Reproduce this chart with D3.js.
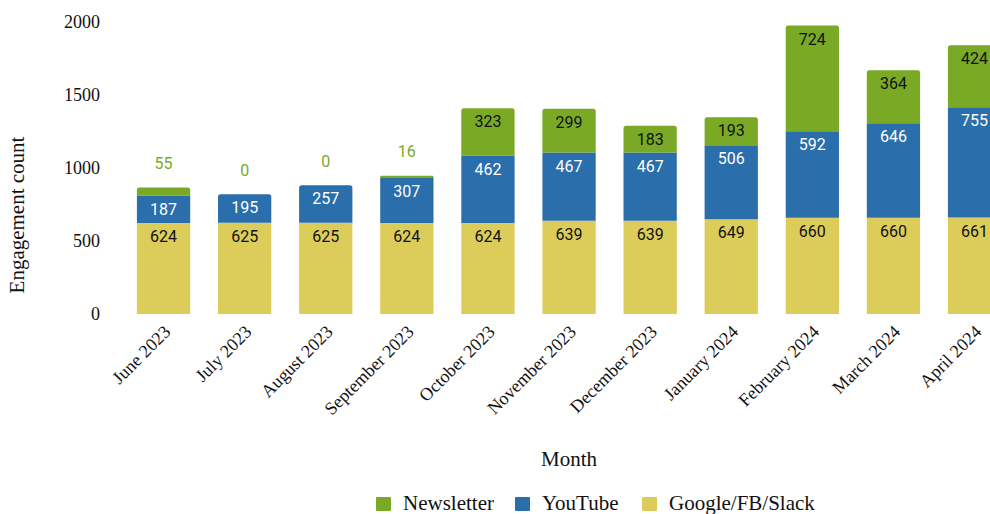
<!DOCTYPE html>
<html>
<head>
<meta charset="utf-8">
<script src="https://cdn.jsdelivr.net/npm/d3@7"></script>
<style>
  html, body { margin: 0; padding: 0; background: #fff; overflow: hidden; }
  svg { display: block; }
</style>
</head>
<body>
<svg id="chart" width="990" height="514"></svg>
<script>
// Monthly engagement, stacked by channel
const months = ["June 2023", "July 2023", "August 2023", "September 2023", "October 2023",
  "November 2023", "December 2023", "January 2024", "February 2024", "March 2024", "April 2024"];
const googleFbSlack = [624, 625, 625, 624, 624, 639, 639, 649, 660, 660, 661];
const youtube = [187, 195, 257, 307, 462, 467, 467, 506, 592, 646, 755];
const newsletter = [55, 0, 0, 16, 323, 299, 183, 193, 724, 364, 424];
const yTicks = [0, 500, 1000, 1500, 2000];

const seriesNames = ["Google/FB/Slack", "YouTube", "Newsletter"];
const colors = { "Google/FB/Slack": "#dccd5b", "YouTube": "#2a6eab", "Newsletter": "#79a925" };
const labelColors = { "Google/FB/Slack": "#111", "YouTube": "#fff", "Newsletter": "#111" };
const legendOrder = ["Newsletter", "YouTube", "Google/FB/Slack"];

const rows = months.map((m, i) => ({
  month: m,
  "Google/FB/Slack": googleFbSlack[i],
  "YouTube": youtube[i],
  "Newsletter": newsletter[i]
}));

const svg = d3.select("#chart");
const serif = "'Liberation Serif', 'Times New Roman', serif";
const sans = "Roboto, 'Noto Sans', sans-serif";

const x = d3.scaleBand().domain(months).range([123, 123 + 81.1 * months.length])
  .paddingInner(0.343).paddingOuter(0.1715);
const y = d3.scaleLinear().domain([0, 2000]).range([314, 22]);

const stack = d3.stack().keys(seriesNames)(rows);

// topmost non-empty segment for each month gets rounded top corners
const topKey = rows.map(r => {
  let k = null;
  seriesNames.forEach(s => { if (r[s] > 0) k = s; });
  return k;
});

function segPath(x0, w, yTop, yBot, r) {
  if (r <= 0) return `M${x0},${yBot}V${yTop}H${x0 + w}V${yBot}Z`;
  return `M${x0},${yBot}V${yTop + r}Q${x0},${yTop} ${x0 + r},${yTop}H${x0 + w - r}Q${x0 + w},${yTop} ${x0 + w},${yTop + r}V${yBot}Z`;
}

const layers = svg.append("g").selectAll("g").data(stack).join("g")
  .attr("fill", d => colors[d.key]);

layers.selectAll("path").data(d => d.map((v, i) => ({ key: d.key, v, i }))).join("path")
  .filter(d => d.v[1] > d.v[0])
  .attr("d", d => {
    const yT = y(d.v[1]), yB = y(d.v[0]);
    const r = topKey[d.i] === d.key ? Math.min(2.5, (yB - yT) / 2) : 0;
    return segPath(x(d.v.data.month), x.bandwidth(), yT, yB, r);
  });

// value labels
const labelG = svg.append("g").attr("font-family", sans).attr("font-size", 16).attr("text-anchor", "middle");
stack.forEach(layer => {
  layer.forEach((v, i) => {
    const val = v[1] - v[0];
    const yT = y(v[1]), yB = y(v[0]);
    const h = yB - yT;
    const cx = x(v.data.month) + x.bandwidth() / 2;
    let cy, fill;
    if (h < 20) {
      cy = yT - 24;
      fill = colors[layer.key];
    } else {
      cy = yT + Math.min(13.5, h / 2);
      fill = labelColors[layer.key];
    }
    labelG.append("text").attr("x", cx).attr("y", cy).attr("dy", "0.35em")
      .attr("fill", fill).text(val);
  });
});

// y axis (labels only)
const yAxis = svg.append("g").attr("transform", "translate(100,0)")
  .call(d3.axisLeft(y).tickValues(yTicks).tickSize(0).tickPadding(0).tickFormat(d3.format("d")));
yAxis.select(".domain").remove();
yAxis.selectAll("text").attr("font-family", serif).attr("font-size", 18).attr("fill", "#111");

// x axis (rotated labels only)
const xAxis = svg.append("g").attr("transform", "translate(0,314)")
  .call(d3.axisBottom(x).tickSize(0).tickPadding(0));
xAxis.select(".domain").remove();
xAxis.selectAll("text")
  .attr("font-family", serif).attr("font-size", 18).attr("fill", "#111")
  .attr("text-anchor", "end")
  .attr("transform", "translate(8,19) rotate(-45)")
  .attr("x", 0).attr("y", 0).attr("dy", 0);

// axis titles
svg.append("text").attr("transform", "translate(24,215) rotate(-90)")
  .attr("text-anchor", "middle").attr("font-family", serif).attr("font-size", 21)
  .attr("fill", "#111").text("Engagement count");
svg.append("text").attr("x", (x.range()[0] + x.range()[1]) / 2).attr("y", 466)
  .attr("text-anchor", "middle").attr("font-family", serif).attr("font-size", 21)
  .attr("fill", "#111").text("Month");

// legend
const legendX = [376, 515, 642];
const legend = svg.append("g");
legendOrder.forEach((name, i) => {
  const g = legend.append("g").attr("transform", `translate(${legendX[i]},497)`);
  g.append("rect").attr("width", 15).attr("height", 14).attr("rx", 1).attr("fill", colors[name]);
  g.append("text").attr("x", 27).attr("y", 13).attr("font-family", serif).attr("font-size", 21)
    .attr("fill", "#111").text(name);
});
</script>
</body>
</html>
